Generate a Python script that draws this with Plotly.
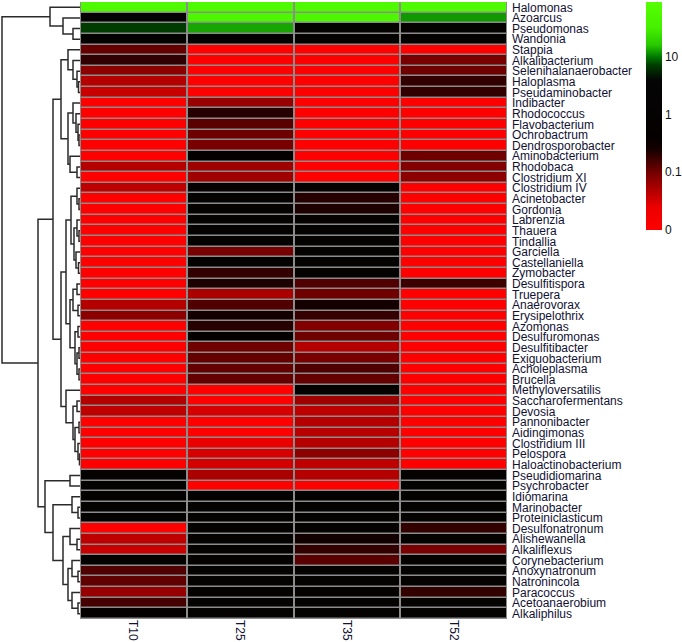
import numpy as np
import plotly.graph_objects as go

genera = ["Halomonas", "Azoarcus", "Pseudomonas", "Wandonia", "Stappia", "Alkalibacterium",
          "Selenihalanaerobacter", "Haloplasma", "Pseudaminobacter", "Indibacter", "Rhodococcus",
          "Flavobacterium", "Ochrobactrum", "Dendrosporobacter", "Aminobacterium", "Rhodobaca",
          "Clostridium XI", "Clostridium IV", "Acinetobacter", "Gordonia", "Labrenzia", "Thauera",
          "Tindallia", "Garciella", "Castellaniella", "Zymobacter", "Desulfitispora", "Truepera",
          "Anaerovorax", "Erysipelothrix", "Azomonas", "Desulfuromonas", "Desulfitibacter",
          "Exiguobacterium", "Acholeplasma", "Brucella", "Methyloversatilis", "Saccharofermentans",
          "Devosia", "Pannonibacter", "Aidingimonas", "Clostridium III", "Pelospora",
          "Haloactinobacterium", "Pseudidiomarina", "Psychrobacter", "Idiomarina", "Marinobacter",
          "Proteiniclasticum", "Desulfonatronum", "Alishewanella", "Alkaliflexus", "Corynebacterium",
          "Anoxynatronum", "Natronincola", "Paracoccus", "Acetoanaerobium", "Alkaliphilus"]

samples = ["T10", "T25", "T35", "T52"]

t10 = [60, 1.5, 7, 1, 0.115, 0.19, 0.075, 0.047, 0.037, 0, 0, 0, 0, 0, 0, 0.047, 0, 0.042,
       0, 0, 0, 0, 0, 0, 0, 0, 0, 0, 0.047, 0.075, 0, 0, 0, 0, 0, 0, 0, 0.047, 0.042, 0, 0, 0,
       0, 0, 1, 1, 1, 1, 1, 0, 0.042, 0.037, 1, 0.14, 0.12, 0.067, 0.155, 0.5]
t25 = [60, 50, 13, 1, 0, 0, 0, 0, 0, 0.067, 0.21, 0.126, 0.105, 0.094, 0.5, 0.06, 0.06, 1,
       1, 1, 1, 1, 1, 0.094, 1, 0.186, 0.23, 0.053, 0.14, 0.25, 0.21, 0.4, 0.105, 0.115, 0.115,
       0.115, 0, 0, 0.032, 0, 0, 0.025, 0.032, 0.033, 0.053, 0, 1, 1, 1, 1, 1, 1, 1, 1, 1, 1,
       1, 1]
t35 = [60, 50, 1, 1, 0, 0, 0, 0, 0, 0, 0, 0, 0, 0, 0, 0, 0, 1, 0.21, 0.23, 1, 1, 1, 1, 1, 1,
       0.14, 0.105, 0.25, 0.18, 0.084, 0.105, 0.047, 0.094, 0.14, 0.115, 1, 0.06, 0.042, 0.047,
       0.045, 0.047, 0.075, 0.042, 0.047, 0, 1, 1, 1, 1, 0.27, 0.186, 0.126, 1, 1, 1, 1, 1]
t52 = [60, 12, 1, 1, 0, 0.094, 0.105, 0.186, 0.186, 0, 0, 0, 0, 0, 0.105, 0.084, 0.075, 0,
       0, 0, 0, 0, 0, 0, 0, 0, 0.17, 0, 0, 0, 0, 0, 0, 0, 0, 0, 0, 0, 0, 0, 0, 0, 0, 0, 1, 1,
       1, 1, 1, 0.186, 1, 0.094, 1, 1, 1, 0.186, 1, 1]

colorbar_tickvals = [0.01, 0.1, 1, 10]
colorbar_ticktext = ["0", "0.1", "1", "10"]

# hierarchical clustering merges: (left, right, height); ints refer to earlier merges
merges = [
    ("Pseudomonas", "Wandonia", 7), ("Azoarcus", 0, 17), ("Halomonas", 1, 30),
    ("Haloplasma", "Pseudaminobacter", 1.5), ("Selenihalanaerobacter", 3, 3),
    ("Alkalibacterium", 4, 7), ("Stappia", 5, 12),
    ("Ochrobactrum", "Dendrosporobacter", 1), ("Flavobacterium", 7, 2), ("Rhodococcus", 8, 4),
    ("Indibacter", 9, 7), ("Rhodobaca", "Clostridium XI", 3), ("Aminobacterium", 11, 10),
    (10, 12, 12), (6, 13, 19),
    ("Acinetobacter", "Gordonia", 1), ("Clostridium IV", 15, 3),
    ("Thauera", "Tindallia", 1), ("Labrenzia", 17, 3),
    ("Castellaniella", "Zymobacter", 1.5), ("Garciella", 19, 4), (18, 20, 6), (16, 21, 9),
    ("Desulfitispora", "Truepera", 3), ("Anaerovorax", "Erysipelothrix", 2), (23, 24, 7),
    ("Azomonas", "Desulfuromonas", 2), ("Desulfitibacter", "Exiguobacterium", 1),
    ("Acholeplasma", "Brucella", 1), (27, 28, 3), (26, 29, 5), (25, 30, 10), (22, 31, 14),
    ("Saccharofermentans", "Devosia", 3), ("Pannonibacter", "Aidingimonas", 1),
    ("Pelospora", "Haloactinobacterium", 0.5), ("Clostridium III", 35, 2), (34, 36, 5),
    (33, 37, 7), ("Methyloversatilis", 38, 14), (32, 39, 19), (14, 40, 27),
    ("Pseudidiomarina", "Psychrobacter", 10), ("Marinobacter", "Proteiniclasticum", 2),
    ("Idiomarina", 43, 8), ("Alishewanella", "Alkaliflexus", 3), ("Desulfonatronum", 45, 10),
    ("Anoxynatronum", "Natronincola", 2), ("Corynebacterium", 47, 8),
    ("Acetoanaerobium", "Alkaliphilus", 2), ("Paracoccus", 49, 8), (48, 50, 12), (46, 51, 17),
    (44, 52, 27), (42, 53, 35), (41, 54, 42), (2, 55, 78),
]

# ---- heatmap values (log scale) ----
vals = np.array([t10, t25, t35, t52], dtype=float).T
zmin_log, zmax_log = -2.0, 1.95
z = np.log10(np.maximum(vals, 0.01))

stops = [(-2.0, "rgb(255,0,0)"), (-1.6, "rgb(235,0,0)"), (-1.0, "rgb(115,0,0)"),
         (-0.6, "rgb(20,0,0)"), (-0.4, "rgb(5,0,0)"), (0.6, "rgb(5,5,5)"),
         (0.85, "rgb(0,60,0)"), (1.0, "rgb(0,120,0)"), (1.2, "rgb(40,200,0)"),
         (1.5, "rgb(70,240,0)"), (1.95, "rgb(85,255,0)")]
colorscale = [[(v - zmin_log) / (zmax_log - zmin_log), c] for v, c in stops]

W, H = 682, 642
MT, MB = 2, 23
plot_h = H - MT - MB
dendro_right = 80      # px
heat_right = 507       # px

rows = list(range(len(genera)))

fig = go.Figure()

fig.add_trace(go.Heatmap(
    z=z, x=samples, y=rows, zmin=zmin_log, zmax=zmax_log, colorscale=colorscale,
    xgap=2, ygap=1.5, xaxis="x", yaxis="y",
    colorbar=dict(
        tickvals=list(np.log10(colorbar_tickvals)), ticktext=colorbar_ticktext,
        x=646 / W, xanchor="left", xref="paper", xpad=0, y=1, yanchor="top",
        ypad=0, len=228 / plot_h, lenmode="fraction", thickness=16, outlinewidth=0,
        ticks="", ticklen=0, ticklabelposition="outside",
        tickfont=dict(family="Arial, Liberation Sans, sans-serif", size=12, color="#111111"),
    ),
    hovertemplate="%{x}<br>%{text}<extra></extra>",
    text=[[g] * 4 for g in genera],
))

# ---- dendrogram ----
pos = {g: (0.0, float(i)) for i, g in enumerate(genera)}
xs, ys = [], []
for i, (a, b, h) in enumerate(merges):
    ha, ya = pos[a]
    hb, yb = pos[b]
    xs += [ha, h, h, hb, None]
    ys += [ya, ya, yb, yb, None]
    pos[i] = (h, (ya + yb) / 2)

fig.add_trace(go.Scatter(
    x=xs, y=ys, mode="lines", xaxis="x2", yaxis="y",
    line=dict(color="#2b2b2b", width=1.5), hoverinfo="skip", showlegend=False,
))

fig.add_shape(type="rect", xref="x domain", yref="y domain", x0=0, x1=1, y0=0, y1=1,
              fillcolor="#8c8c8c", line=dict(width=0), layer="below")

label_font = dict(family="Arial, Liberation Sans, sans-serif", size=12, color="#111133")

fig.update_layout(
    template="none",
    width=W, height=H,
    margin=dict(l=0, r=0, t=MT, b=MB, pad=0, autoexpand=False),
    paper_bgcolor="white", plot_bgcolor="white",
    showlegend=False,
    xaxis=dict(domain=[dendro_right / W, heat_right / W], anchor="y", type="category",
               showgrid=False, zeroline=False, showline=False, ticks="", tickangle=90,
               ticklen=0, tickfont=label_font, automargin=False),
    xaxis2=dict(domain=[0, dendro_right / W], anchor="y", range=[dendro_right, 0],
                visible=False, showgrid=False, zeroline=False),
    yaxis=dict(range=[len(genera) - 0.5, -0.5], tickvals=rows, ticktext=genera,
               side="right", anchor="x", showgrid=False, zeroline=False, ticks="",
               ticklen=0, tickfont=label_font, ticklabelstandoff=4, automargin=False),
)

fig.write_html("out.html", config={"displayModeBar": False},
               post_script="document.body.style.margin='0';document.body.style.padding='0';")
